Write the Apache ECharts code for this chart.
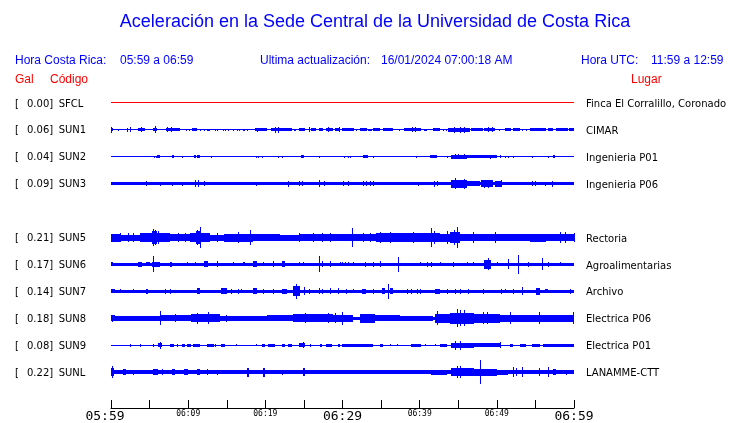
<!DOCTYPE html>
<html><head><meta charset="utf-8">
<script src="https://cdn.jsdelivr.net/npm/echarts@6/dist/echarts.min.js"></script>
<style>html,body{margin:0;padding:0;background:#fff}#c{width:740px;height:423px}</style>
</head><body><div id="c"></div>
<script>
// ---------- data ----------
const codes  = ['SFCL','SUN1','SUN2','SUN3','','SUN5','SUN6','SUN7','SUN8','SUN9','SUNL'];
const gal    = ['0.00','0.06','0.04','0.09','','0.21','0.17','0.14','0.18','0.08','0.22'];
const places = ['Finca El Corralillo, Coronado','CIMAR','Ingenieria P01','Ingenieria P06','','Rectoria','Agroalimentarias','Archivo','Electrica P06','Electrica P01','LANAMME-CTT'];
const tickLabels = ['05:59','06:09','06:19','06:29','06:39','06:49','06:59'];
// minutes after 05:59; amplitudes are half-widths of the trace envelope
const baseAmp = [0.5,0.5,0.5,1.8,0,2.7,1.4,1.6,1.7,0.5,1.8];
const SFCL_blocks = [], SFCL_spikes = [];
const SUN1_blocks = [[0,0.3,1.5],[3.5,4.4,1.5],[5.5,6.0,1.5],[7.1,8.9,1.5],[9.7,9.9,1.3],[10.1,10.3,1.3],[10.5,11.2,1.5],[12.4,12.8,1.3],[17.1,17.4,1.3],[18.7,20.2,1.5],[20.7,23.4,1.5],[23.7,24.0,1.3],[24.4,25.1,1.5],[25.9,26.6,1.5],[26.9,27.5,1.5],[27.8,28.8,1.5],[29.0,29.7,1.5],[29.9,31.5,1.5],[32.3,33.2,1.5],[33.3,33.8,1.2],[34.0,34.8,1.5],[35.3,36.6,1.5],[38.0,40.2,1.5],[40.5,41.0,1.3],[41.7,42.6,1.5],[43.7,46.5,2.2],[46.7,48.2,1.5],[48.4,49.7,1.5],[51.0,51.9,1.5],[52.1,53.0,1.5],[54.3,56.4,1.5],[56.6,57.3,1.5],[57.7,59.2,1.5],[59.4,60,1.5]];
const SUN1_spikes = [[0,2.7],[0.9,1.2],[2.1,2],[2.5,2.5],[3.9,2.5],[5.7,3.5],[7.3,2.5],[7.8,2.5],[11.5,1.2],[12.0,1.2],[13.5,1.2],[13.8,1.2],[14.5,1.2],[14.8,1.2],[15.2,1.2],[15.8,1.2],[16.3,1.2],[16.6,1.2],[17.6,1.2],[18.9,2],[21.3,3],[21.7,3],[25.6,2.5],[28.1,2.5],[29.5,2.5],[31.8,1.2],[37.3,1.2],[39.0,2.5],[39.4,2.5],[43.0,1.2],[43.4,1.2],[44.5,3],[45.2,3],[45.8,3],[48.9,2.5],[49.4,2.5],[50.3,1.2],[53.3,1.2],[53.8,1.2]];
const SUN2_blocks = [[6.0,6.4,1.3],[7.9,8.1,1.5],[10.7,11.0,1.5],[11.2,11.5,1.5],[24.6,25.0,1.5],[32.7,33.3,1.3],[41.4,42.2,1.5],[44.0,46.1,2],[46.1,50.0,1.3],[57.3,57.6,1.5]];
const SUN2_spikes = [[5.6,1.2],[5.8,1.2],[9.2,1],[13.0,1.2],[18.8,1],[19.1,1],[19.6,1],[21.7,1],[22.2,1.2],[27.0,1],[30.2,1.2],[30.7,1],[31.0,1],[34.0,1.2],[39.5,1],[43.6,1.2],[44.6,2.5],[45.0,2.5],[45.8,2.5],[49.1,2],[50.4,1.5],[51.1,1],[51.5,1],[52.1,1],[54.5,1],[56.6,1]];
const SUN3_blocks = [[44.0,46.1,4],[46.1,47.8,2.5],[48.0,49.5,3.5],[49.7,50.6,3]];
const SUN3_spikes = [[4.5,2.5],[6.4,2],[7.9,2],[9.2,2],[10.9,3.5],[11.3,3.5],[12.0,2.5],[18.8,2],[22.9,3],[24.4,2.5],[24.8,2.5],[27.0,3.5],[27.6,2.2],[30.1,2.5],[30.7,2.5],[32.7,2.5],[33.0,2.5],[33.6,2.5],[34.0,2.5],[39.8,2],[41.9,3],[42.2,2.2],[44.6,5.5],[45.8,5],[48.3,4],[48.9,4],[50.5,3.5],[54.5,2.5],[55.0,2.5],[56.2,2],[57.1,3]];
const SUN5_blocks = [[0,1.2,4],[1.2,3.7,3],[3.7,7.6,4.5],[5.3,6.0,6.5],[7.6,10.2,3.5],[10.2,12.8,5],[11.0,11.5,7],[12.8,14.6,3],[14.6,18.4,4],[18.4,21.9,3.5],[21.9,24.3,3],[24.3,28.6,3.5],[28.6,31.0,3.5],[31.0,34.4,3.5],[34.4,39.2,4.5],[39.2,42.6,5],[42.6,43.9,4],[43.9,45.2,6],[45.2,50.0,3.5],[50.0,54.3,3.5],[54.3,56.4,4],[56.4,60,3.5]];
const SUN5_spikes = [[1.2,5],[2.2,5],[2.9,5],[5.5,9],[5.7,8],[6.1,7],[8.7,4.5],[9.6,4.5],[11.1,8],[11.5,11],[13.8,5],[16.5,6],[18.0,8],[24.3,5],[26.2,4.5],[27.4,5],[28.4,5],[31.2,9.5],[32.7,5],[33.5,5],[34.8,6],[36.1,6],[39.2,6],[41.5,10],[41.9,7],[43.6,7],[44.5,8],[44.8,11],[46.9,6],[49.7,6],[58.2,6],[58.8,6],[60,5]];
const SUN6_blocks = [[0,0.3,2],[3.5,4.0,2.5],[4.6,5.1,2],[5.3,6.3,2.5],[7.6,7.9,2.5],[12.0,12.6,3],[17.1,17.4,2],[18.4,18.9,3],[22.1,22.5,3],[48.4,49.3,4.5]];
const SUN6_spikes = [[0.1,2],[5.5,8],[9.9,2],[10.9,2],[13.7,3],[15.8,2],[19.7,2],[21.0,3],[24.3,2],[24.9,2],[26.9,8],[27.3,3],[28.4,3],[29.7,2],[29.9,2],[30.3,2],[30.7,2],[31.4,2],[32.9,2.5],[34.0,2.5],[34.8,3],[37.2,7.5],[40.0,2],[40.9,2.5],[41.5,2.5],[42.6,2],[44.3,2.5],[46.1,2],[46.9,2],[48.9,6],[50.0,2],[51.5,5],[52.8,9.5],[54.1,2.5],[55.9,6],[56.6,2.5],[58.2,2]];
const SUN7_blocks = [[0,0.5,2],[4.6,4.8,2.5],[11.1,11.5,3],[14.3,15.0,3],[18.4,18.9,3],[22.1,22.8,2.5],[23.6,24.5,5],[32.5,33.1,2.5],[35.1,35.5,3],[36.1,36.6,3],[42.0,42.6,2.5],[55.1,55.6,3.5],[56.2,56.6,2]];
const SUN7_spikes = [[1.2,2],[2.8,2],[7.0,2.5],[7.6,2.5],[15.6,2.5],[16.5,2.5],[16.9,2],[19.7,2.5],[21.0,2.5],[24.0,7.5],[25.0,4],[25.6,2.5],[26.9,3],[27.3,2.5],[28.4,3],[29.4,3],[30.5,2.5],[31.4,2],[34.0,2.5],[35.9,7.5],[38.3,2.5],[38.9,2.5],[39.6,2.5],[40.0,2.5],[43.5,2.5],[44.6,2.5],[45.2,2.5],[46.3,2.5],[48.2,2.5],[50.6,2.5],[51.0,2],[52.1,2.5],[53.3,4],[59.5,2.5]];
const SUN8_blocks = [[0,0.5,3],[0.5,2.0,2.5],[2.0,6.3,2.7],[6.3,10.4,3],[10.4,14.1,4],[14.1,17.6,2.5],[17.6,20.2,2.5],[20.2,23.6,3],[23.6,28.8,4],[28.8,31.4,3.5],[32.3,34.2,4.5],[34.2,37.4,3],[37.4,41.7,2.5],[42.0,43.9,4.5],[43.9,47.0,5.5],[47.0,50.4,4.5],[50.4,53.8,3.5],[53.8,56.4,3.5],[56.4,60,3.5]];
const SUN8_spikes = [[0.1,3.5],[6.3,7],[8.3,4],[11.1,5.5],[12.6,6],[14.9,3.5],[25.2,5],[28.1,5],[29.0,5],[29.9,6.5],[42.2,7],[44.8,9],[45.2,8],[45.8,8],[48.2,6],[48.7,6],[51.7,6],[55.4,6],[59.9,6]];
const SUN9_blocks = [[5.4,5.6,1.5],[6.1,6.6,2],[7.6,8.2,1.5],[9.2,9.6,1.5],[9.9,10.4,1.5],[10.6,11.5,1.5],[12.5,13.3,1.5],[14.3,14.8,1.5],[19.6,19.9,1.5],[20.4,21.2,1.5],[22.1,22.5,1.5],[23.0,23.4,1.5],[24.3,25.1,2],[27.1,27.3,1.5],[27.9,28.6,1.5],[29.4,29.7,1.5],[29.9,34.0,1.5],[34.8,35.3,1.5],[38.9,40.2,1.5],[42.6,43.5,1.5],[44.1,47.0,2.5],[47.0,50.6,1.8],[51.7,52.1,1.5],[53.0,53.8,1.5],[54.5,55.6,1.5],[56.0,60,1.5]];
const SUN9_spikes = [[2.5,1.5],[3.8,1.5],[6.3,3.5],[8.6,1.5],[13.5,1.5],[16.2,1.2],[18.8,1.2],[24.9,3],[25.8,1.5],[36.1,1.2],[37.0,1.2],[40.7,1.2],[42.0,1.2],[44.6,4.5],[45.2,4.5],[50.4,3]];
const SUNL_blocks = [[0,0.4,4],[1.6,2.0,3],[5.5,6.1,3],[7.9,8.3,3],[9.4,10.0,3],[11.1,11.5,3],[12.4,12.6,3],[17.6,17.9,4.5],[19.7,19.9,4.5],[24.9,25.1,4],[30.5,31.0,2],[41.5,43.5,2.5],[44.1,47.0,4],[47.0,50.0,3.5],[50.0,51.5,2.5],[57.3,57.7,3]];
const SUNL_spikes = [[0.1,6],[2.9,2.5],[6.6,3],[13.7,2.5],[22.1,2.5],[32.0,2],[32.9,2],[34.0,2],[38.3,2],[39.4,2],[44.9,6],[45.2,6],[47.8,12],[52.1,5],[52.5,4],[53.3,5],[55.5,4],[56.6,5],[59.0,2.5]];

const traceBlocks = [SFCL_blocks,SUN1_blocks,SUN2_blocks,SUN3_blocks,null,SUN5_blocks,SUN6_blocks,SUN7_blocks,SUN8_blocks,SUN9_blocks,SUNL_blocks];
const traceSpikes = [SFCL_spikes,SUN1_spikes,SUN2_spikes,SUN3_spikes,null,SUN5_spikes,SUN6_spikes,SUN7_spikes,SUN8_spikes,SUN9_spikes,SUNL_spikes];

// ---------- build ----------
const ROW = 27;
const items = [];
codes.forEach((c, i) => {
  if (!c) return;
  const yc = ROW * (i + 1);
  const col = i === 0 ? 1 : 0;
  items.push([0, 60, yc, baseAmp[i], col]);
  traceBlocks[i].forEach(b => items.push([b[0], b[1], yc, b[2], col]));
  traceSpikes[i].forEach(s => items.push([s[0], s[0], yc, s[1], col]));
});
const colors = ['#0000ff', '#ff0000'];

function renderItem(params, api) {
  const t0 = api.value(0), t1 = api.value(1), yc = api.value(2), a = api.value(3);
  const pa = api.coord([t0, yc]);
  const pb = api.coord([t1, yc]);
  const top = api.coord([t0, yc - a])[1];
  const bot = api.coord([t0, yc + a])[1];
  const cy = pa[1];
  const half = Math.abs(bot - top) / 2;
  let x0 = Math.round(Math.min(pa[0], pb[0]));
  let x1 = Math.round(Math.max(pa[0], pb[0]));
  if (x1 - x0 < 1) x1 = x0 + 1;
  let y0 = Math.floor(cy - half + 0.5);
  let y1 = Math.floor(cy + half + 0.5);
  if (y1 - y0 < 1) y1 = y0 + 1;
  return { type: 'rect', shape: { x: x0, y: y0, width: x1 - x0, height: y1 - y0 }, style: { fill: colors[api.value(4)] } };
}

const rowLabel = (v, arr) => {
  const k = v / ROW - 1;
  if (Math.abs(k - Math.round(k)) > 1e-6) return '';
  const i = Math.round(k);
  return (i >= 0 && i < arr.length) ? arr[i] : '';
};

const chart = echarts.init(document.getElementById('c'), null, { renderer: 'canvas' });
const HF = 'Liberation Sans, Arial, sans-serif';
const MONO = 'DejaVu Sans Mono';
const blue = '#0000ff';
chart.setOption({
  animation: false,
  backgroundColor: '#fff',
  grid: { left: 111, right: 166, top: 76, bottom: 14 },
  xAxis: {
    type: 'value', min: 0, max: 60, interval: 5, position: 'bottom',
    axisLine: { show: true, onZero: false, lineStyle: { color: '#000', width: 1 } },
    axisTick: { show: true, inside: true, length: 8, lineStyle: { color: '#000', width: 1 } },
    splitLine: { show: false },
    axisLabel: {
      margin: 2, color: '#000', showMinLabel: true, showMaxLabel: true, hideOverlap: false,
      formatter: v => {
        if (v % 10 !== 0) return '';
        const k = v / 10;
        if (k === 0) return '{bigFirst|' + tickLabels[k] + '}';
        return (k % 3 === 0 ? '{big|' : '{small|') + tickLabels[k] + '}';
      },
      rich: {
        bigFirst: { fontFamily: MONO, fontSize: 13, lineHeight: 13, color: '#000', padding: [0, 12, 0, 0] },
        big: { fontFamily: MONO, fontSize: 13, lineHeight: 13, color: '#000' },
        small: { fontFamily: MONO, fontSize: 8, lineHeight: 8, color: '#000' }
      }
    }
  },
  yAxis: [{
    type: 'value', inverse: true, min: 0, max: 333, interval: ROW, position: 'left',
    axisLine: { show: false }, axisTick: { show: false }, splitLine: { show: false },
    axisLabel: {
      align: 'left', margin: 96, showMinLabel: true, showMaxLabel: true,
      formatter: v => {
        const c = rowLabel(v, codes);
        if (!c) return '';
        return '{a|[}{v|' + rowLabel(v, gal) + ']}{c|' + c + '}';
      },
      rich: {
        a: { width: 12, fontFamily: 'DejaVu Sans', fontSize: 10, color: '#000', padding: [2, 0, 0, 0] },
        v: { width: 31.7, fontFamily: 'DejaVu Sans', fontSize: 10, color: '#000', padding: [2, 0, 0, 0] },
        c: { fontFamily: 'DejaVu Sans', fontSize: 10, color: '#000', padding: [2, 0, 0, 0] }
      }
    }
  }, {
    type: 'value', inverse: true, min: 0, max: 333, interval: ROW, position: 'right',
    axisLine: { show: false }, axisTick: { show: false }, splitLine: { show: false },
    axisLabel: {
      align: 'left', margin: 12,
      formatter: v => {
        const p = rowLabel(v, places);
        return p ? '{p|' + p + '}' : '';
      },
      rich: {
        p: { fontFamily: 'DejaVu Sans', fontSize: 10, color: '#000', padding: [3, 0, 0, 0] }
      }
    }
  }],
  graphic: [
    { type: 'text', x: 375, y: 22, style: { text: 'Aceleración en la Sede Central de la Universidad de Costa Rica', font: '18px ' + HF, fill: blue, textAlign: 'center', textVerticalAlign: 'middle' } },
    { type: 'text', x: 15, y: 61, style: { text: 'Hora Costa Rica:', font: '12px ' + HF, fill: blue, textVerticalAlign: 'middle' } },
    { type: 'text', x: 120, y: 61, style: { text: '05:59 a 06:59', font: '12px ' + HF, fill: blue, textVerticalAlign: 'middle' } },
    { type: 'text', x: 260, y: 61, style: { text: 'Ultima actualización:', font: '12px ' + HF, fill: blue, textVerticalAlign: 'middle' } },
    { type: 'text', x: 381, y: 61, style: { text: '16/01/2024 07:00:18 AM', font: '12px ' + HF, fill: blue, textVerticalAlign: 'middle' } },
    { type: 'text', x: 581, y: 61, style: { text: 'Hora UTC:', font: '12px ' + HF, fill: blue, textVerticalAlign: 'middle' } },
    { type: 'text', x: 651, y: 61, style: { text: '11:59 a 12:59', font: '12px ' + HF, fill: blue, textVerticalAlign: 'middle' } },
    { type: 'text', x: 15, y: 80, style: { text: 'Gal', font: '12px ' + HF, fill: '#ff0000', textVerticalAlign: 'middle' } },
    { type: 'text', x: 50, y: 80, style: { text: 'Código', font: '12px ' + HF, fill: '#ff0000', textVerticalAlign: 'middle' } },
    { type: 'text', x: 631, y: 80, style: { text: 'Lugar', font: '12px ' + HF, fill: '#ff0000', textVerticalAlign: 'middle' } }
  ],
  series: [{
    type: 'custom', renderItem: renderItem, data: items,
    encode: { x: [0, 1], y: [2] }, clip: false, silent: true
  }]
});
</script></body></html>
